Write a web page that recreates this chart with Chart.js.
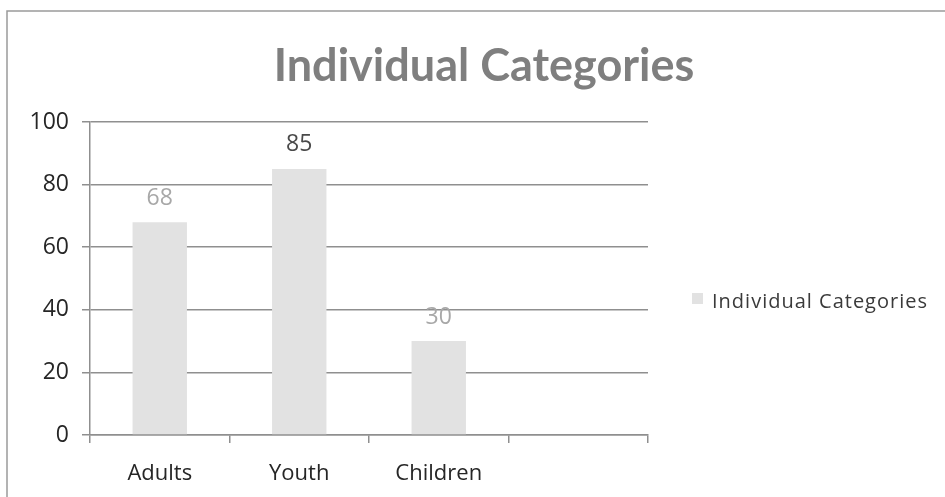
<!DOCTYPE html>
<html>
<head>
<meta charset="utf-8">
<script src="https://cdn.jsdelivr.net/npm/chart.js@4/dist/chart.umd.min.js"></script>
<style>
  html, body { margin: 0; padding: 0; background: #fff; }
  #wrap { width: 945px; height: 497px; }
</style>
</head>
<body>
<div id="wrap"><canvas id="chart" width="945" height="497"></canvas></div>
<script>
const chartTitle = 'Individual Categories';
const seriesName = 'Individual Categories';
const categories = ['Adults', 'Youth', 'Children', ''];
const values = [68, 85, 30, null];
const yTicks = [0, 20, 40, 60, 80, 100];

const gridColor = '#8f8f8f';
const barColor = '#e2e2e2';
const labelColors = ['#a8a8a8', '#4a4a4a', '#a8a8a8', '#a8a8a8'];

// --- Marco, título, leyenda y etiquetas de valor ---
const decorations = {
  id: 'decorations',
  afterDraw(chart) {
    const ctx = chart.ctx;
    ctx.save();

    // marco (solo borde superior e izquierdo)
    ctx.strokeStyle = '#9a9a9a';
    ctx.lineWidth = 1.5;
    ctx.beginPath();
    ctx.moveTo(7, 497);
    ctx.lineTo(7, 11);
    ctx.lineTo(945, 11);
    ctx.stroke();

    // título
    ctx.fillStyle = '#7f7f7f';
    ctx.font = 'bold 45px Lato';
    ctx.textAlign = 'center';
    ctx.textBaseline = 'middle';
    ctx.fillText(chartTitle, 484, 66);

    // leyenda
    ctx.fillStyle = barColor;
    ctx.fillRect(692, 293, 11, 11);
    ctx.fillStyle = '#3a3a3a';
    ctx.font = '20px "Open Sans"';
    ctx.letterSpacing = '1px';
    ctx.textAlign = 'left';
    ctx.fillText(seriesName, 712, 302);
    ctx.letterSpacing = '0px';

    // etiquetas sobre las barras
    const meta = chart.getDatasetMeta(0);
    ctx.font = '23px "Open Sans"';
    ctx.textAlign = 'center';
    meta.data.forEach((bar, i) => {
      if (values[i] == null) return;
      ctx.fillStyle = labelColors[i];
      ctx.fillText(String(values[i]), bar.x, bar.y - 24);
    });
    ctx.restore();
  }
};

new Chart(document.getElementById('chart'), {
  type: 'bar',
  data: {
    labels: categories,
    datasets: [{
      label: seriesName,
      data: values,
      backgroundColor: barColor,
      borderWidth: 0,
      categoryPercentage: 1,
      barPercentage: 0.39
    }]
  },
  options: {
    responsive: false,
    animation: false,
    layout: { padding: { top: 122, right: 297, left: 0, bottom: 0 } },
    plugins: {
      legend: { display: false },
      title: { display: false },
      tooltip: { enabled: false }
    },
    scales: {
      x: {
        afterFit: (s) => { s.height = 62; },
        grid: {
          offset: true,
          drawOnChartArea: false,
          drawTicks: true,
          tickLength: 8,
          color: gridColor,
          lineWidth: 1.5
        },
        border: { display: true, color: gridColor, width: 1.5 },
        ticks: { color: '#262626', font: { family: 'Open Sans', size: 22 }, padding: 18 }
      },
      y: {
        min: 0,
        max: 100,
        afterFit: (s) => { s.width = 90; },
        afterBuildTicks: (s) => { s.ticks = yTicks.map(v => ({ value: v })); },
        grid: { color: gridColor, lineWidth: 1.5, tickLength: 8 },
        border: { display: true, color: gridColor, width: 1.5 },
        ticks: { color: '#262626', font: { family: 'Open Sans', size: 23 }, padding: 13 }
      }
    }
  },
  plugins: [decorations]
});
</script>
</body>
</html>
